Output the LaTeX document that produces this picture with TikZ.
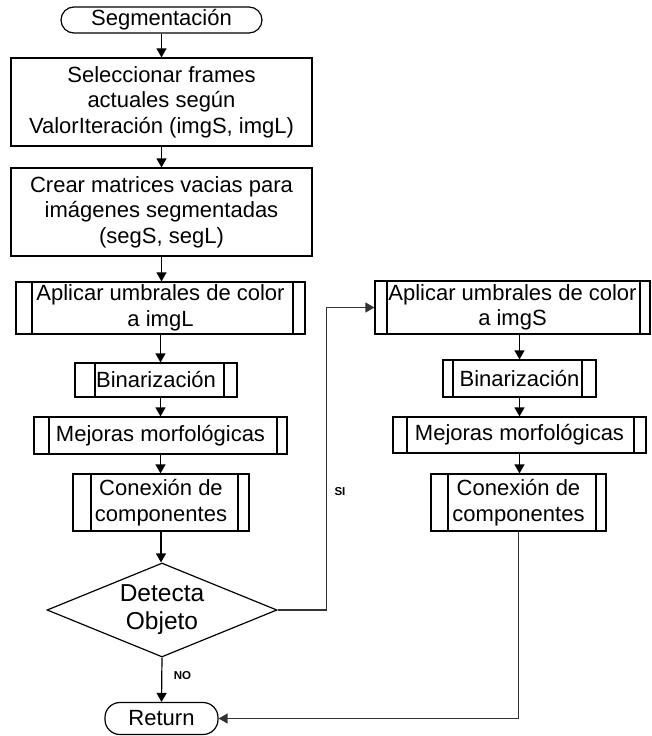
\documentclass[tikz,border=0pt]{standalone}
\usepackage{fontspec}
\setmainfont{Liberation Sans}
\usetikzlibrary{shapes.geometric, arrows.meta}

\tikzset{
  box/.style={draw, line width=1.2pt, align=center, inner sep=0pt,
    font=\fontsize{22}{25.5}\selectfont},
  wh/.style 2 args={minimum width=#1, minimum height=#2},
  term/.style={box, rounded corners=13pt},
  proc/.style={box},
  % predefined process: rectangle with an inner vertical bar on each side
  sub/.style 2 args={box, path picture={
    \draw[line width=1.2pt]
      ([xshift=#1 pt]path picture bounding box.north west) --
      ([xshift=#1 pt]path picture bounding box.south west);
    \draw[line width=1.2pt]
      ([xshift=-#2 pt]path picture bounding box.north east) --
      ([xshift=-#2 pt]path picture bounding box.south east);}},
  decision/.style={draw, line width=1.2pt, diamond, aspect=2.45, inner sep=0pt,
    align=center, font=\fontsize{24.5}{28}\selectfont},
  arr/.style={-{Triangle[length=9pt,width=10pt]}, line width=1.2pt},
  longarr/.style={arr, draw=black!80, line width=1.4pt},
  tag/.style={font=\bfseries\fontsize{11.5}{12}\selectfont, inner sep=0pt}
}

\begin{document}
\begin{tikzpicture}[x=1pt, y=-1pt]
  \fill[white] (0,0) rectangle (652,736);
  \useasboundingbox (0,0) rectangle (652,736);

  % main column
  \node[term, wh={201pt}{26pt}] (seg) at (161.5,20) {Segmentación};
  \node[proc, wh={301pt}{88pt}] (sel) at (161.5,102)
    {Seleccionar frames\\actuales según\\ValorIteración (imgS, imgL)};
  \node[proc, wh={301pt}{88pt}] (crear) at (161.5,212)
    {Crear matrices vacias para\\imágenes segmentadas\\(segS, segL)};
  \node[sub={16}{12}, wh={289pt}{52pt}] (aplL) at (160.5,308)
    {Aplicar umbrales de color\\a imgL};
  \node[sub={20}{13}, wh={162pt}{34pt}] (binL) at (156,380) {Binarización};
  \node[sub={15}{10}, wh={253pt}{37pt}] (mejL) at (160.5,435.5) {Mejoras morfológicas};
  \node[sub={18}{11}, wh={176pt}{57pt}] (conL) at (161,502.5)
    {Conexión de\\componentes};
  \node[decision, minimum width=230pt, minimum height=94pt] (det) at (162,610)
    {Detecta\\Objeto};
  \node[term, rounded corners=15pt, wh={113pt}{32pt}] (ret) at (161.5,718.5) {Return};

  % branch column
  \node[sub={12}{10}, wh={275pt}{53pt}] (aplS) at (512.5,307.5)
    {Aplicar umbrales de color\\a imgS};
  \node[sub={10}{14}, wh={153pt}{37pt}] (binS) at (519.5,378.5) {Binarización};
  \node[sub={14}{12}, wh={253pt}{36pt}] (mejS) at (519.5,435) {Mejoras morfológicas};
  \node[sub={17}{10}, wh={175pt}{57pt}] (conS) at (518.5,502.5)
    {Conexión de\\componentes};

  % main column flow
  \draw[arr] (seg) -- (sel);
  \draw[arr] (sel) -- (crear);
  \draw[arr] (crear.south) -- (crear.south |- aplL.north);
  \draw[arr] (aplL.south) -- (aplL.south |- binL.north);
  \draw[arr] (aplL.south |- binL.south) -- (aplL.south |- mejL.north);
  \draw[arr] (mejL.south) -- (mejL.south |- conL.north);
  \draw[arr] (conL.south) -- (conL.south |- det.north);
  \draw[arr] (det.south) -- (ret.north);
  \node[tag] (no) at (182.5,676) {NO};

  % "SI" branch
  \draw[longarr] (det.east) -- ++(49,0) |- (aplS.west);
  \node[tag] (si) at (340,492) {SI};

  % branch column flow
  \draw[arr] (binS.north |- aplS.south) -- (binS.north);
  \draw[arr] (binS) -- (mejS);
  \draw[arr] (mejS.south) -- (mejS.south |- conS.north);
  \draw[longarr] (conS.south) |- (ret.east);
\end{tikzpicture}
\end{document}
